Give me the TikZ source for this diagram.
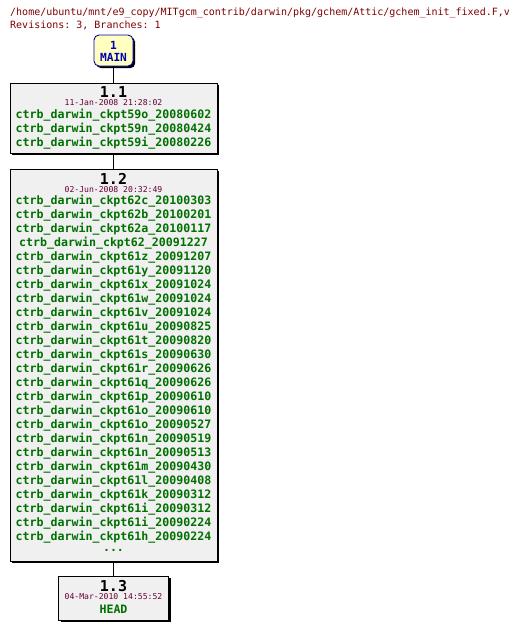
\documentclass[tikz,border=0pt]{standalone}
\usepackage{fontspec}
\setmonofont{DejaVu Sans Mono}
\usetikzlibrary{shadows}
\definecolor{RevHeader}{HTML}{800000}
\definecolor{RevDate}{HTML}{660033}
\definecolor{RevTag}{HTML}{007000}
\definecolor{RevBranch}{HTML}{0000B0}
\definecolor{RevBranchFill}{HTML}{FFFFC0}
\definecolor{RevBoxFill}{HTML}{F0F0F0}
\tikzset{
  revshadow/.style={drop shadow={shadow xshift=2.2pt, shadow yshift=-2.2pt, fill=black, opacity=1}},
  revbox/.style={draw=black, fill=RevBoxFill, line width=0.9pt, inner sep=0pt, revshadow},
  branchbox/.style={draw=RevBranch, fill=RevBranchFill, line width=0.9pt, rounded corners=5pt,
    inner sep=0pt, minimum width=39pt, minimum height=31pt, revshadow},
  revnum/.style={font=\ttfamily\bfseries\fontsize{15pt}{15pt}\selectfont, text=black, inner sep=0pt},
  revdate/.style={font=\ttfamily\fontsize{8.1pt}{8.1pt}\selectfont, text=RevDate, inner sep=0pt},
  revtag/.style={font=\ttfamily\bfseries\fontsize{11.6pt}{11.6pt}\selectfont, text=RevTag, inner sep=0pt},
  branchtext/.style={font=\ttfamily\bfseries\fontsize{11.2pt}{11.2pt}\selectfont, text=RevBranch, inner sep=0pt},
  headertext/.style={font=\ttfamily\fontsize{10pt}{10pt}\selectfont, text=RevHeader, anchor=west, inner sep=0pt},
  revlink/.style={draw=black, line width=0.8pt}
}
\begin{document}
\begin{tikzpicture}[x=1pt,y=-1pt]
  \useasboundingbox (0,0) rectangle (518,629);
  % header
  \node[headertext] (path) at (10,13) {/home/ubuntu/mnt/e9\_copy/MITgcm\_contrib/darwin/pkg/gchem/Attic/gchem\_init\_fixed.F,v};
  \node[headertext] (summary) at (10,25) {Revisions: 3, Branches: 1};
  % boxes
  \node[branchbox] (main) at (113.5,50.5) {};
  \node[revbox, minimum width=207pt, minimum height=70pt] (rev11) at (113.5,118) {};
  \node[revbox, minimum width=207pt, minimum height=392pt] (rev12) at (113.5,365) {};
  \node[revbox, minimum width=110pt, minimum height=44pt] (rev13) at (113.5,598) {};
  % links
  \draw[revlink] (main.south) -- (rev11.north);
  \draw[revlink] (rev11.south) -- (rev12.north);
  \draw[revlink] (rev12.south) -- (rev13.north);
  % branch label
  \node[branchtext] (mainnum) at (113.5,45) {1};
  \node[branchtext] (mainname) at (113.5,57) {MAIN};
  % revision 1.1
  \node[revnum] (num11) at (113.5,92) {1.1};
  \node[revdate] (date11) at (113.5,103) {11-Jan-2008 21:28:02};
  \foreach \tag [count=\i] in {ctrb\_darwin\_ckpt59o\_20080602,ctrb\_darwin\_ckpt59n\_20080424,ctrb\_darwin\_ckpt59i\_20080226}
    \node[revtag] (tag11-\i) at (113.5,101+14*\i) {\tag};
  % revision 1.2
  \node[revnum] (num12) at (113.5,179) {1.2};
  \node[revdate] (date12) at (113.5,190) {02-Jun-2008 20:32:49};
  \foreach \tag [count=\i] in {ctrb\_darwin\_ckpt62c\_20100303,ctrb\_darwin\_ckpt62b\_20100201,
      ctrb\_darwin\_ckpt62a\_20100117,ctrb\_darwin\_ckpt62\_20091227,ctrb\_darwin\_ckpt61z\_20091207,
      ctrb\_darwin\_ckpt61y\_20091120,ctrb\_darwin\_ckpt61x\_20091024,ctrb\_darwin\_ckpt61w\_20091024,
      ctrb\_darwin\_ckpt61v\_20091024,ctrb\_darwin\_ckpt61u\_20090825,ctrb\_darwin\_ckpt61t\_20090820,
      ctrb\_darwin\_ckpt61s\_20090630,ctrb\_darwin\_ckpt61r\_20090626,ctrb\_darwin\_ckpt61q\_20090626,
      ctrb\_darwin\_ckpt61p\_20090610,ctrb\_darwin\_ckpt61o\_20090610,ctrb\_darwin\_ckpt61o\_20090527,
      ctrb\_darwin\_ckpt61n\_20090519,ctrb\_darwin\_ckpt61n\_20090513,ctrb\_darwin\_ckpt61m\_20090430,
      ctrb\_darwin\_ckpt61l\_20090408,ctrb\_darwin\_ckpt61k\_20090312,ctrb\_darwin\_ckpt61i\_20090312,
      ctrb\_darwin\_ckpt61i\_20090224,ctrb\_darwin\_ckpt61h\_20090224}
    \node[revtag] (tag12-\i) at (113.5,187+14*\i) {\tag};
  \node[revtag] (more12) at (113.5,550) {...};
  % revision 1.3
  \node[revnum] (num13) at (113.5,586) {1.3};
  \node[revdate] (date13) at (113.5,597) {04-Mar-2010 14:55:52};
  \node[revtag] (head13) at (113.5,609) {HEAD};
\end{tikzpicture}
\end{document}
